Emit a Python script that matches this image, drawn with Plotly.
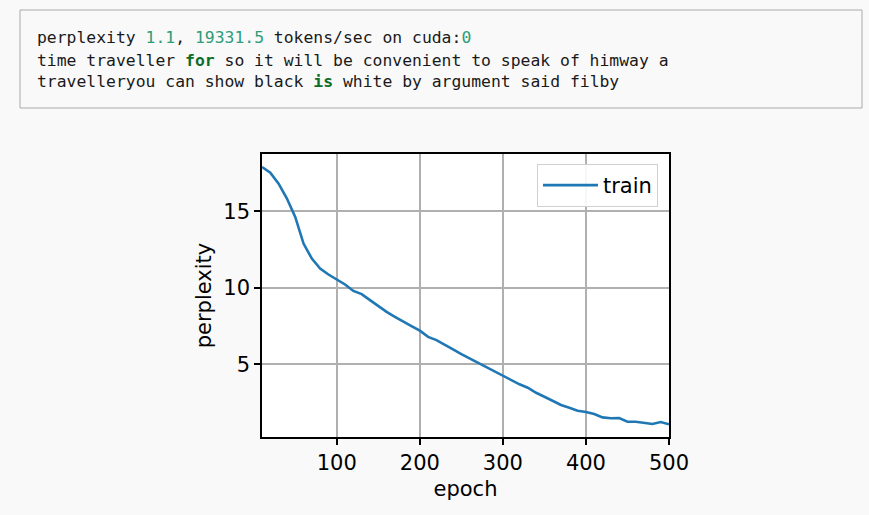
import plotly.graph_objects as go

# ---- data ----
epochs = list(range(10, 501, 10))
perplexity = [17.89, 17.52, 16.80, 15.83, 14.63, 12.89, 11.91, 11.26, 10.87, 10.54,
              10.22, 9.80, 9.59, 9.20, 8.80, 8.43, 8.11, 7.78, 7.50, 7.20,
              6.80, 6.59, 6.26, 5.98, 5.67, 5.39, 5.11, 4.85, 4.59, 4.30,
              3.98, 3.70, 3.48, 3.15, 2.89, 2.61, 2.35, 2.17, 1.98, 1.89,
              1.76, 1.54, 1.48, 1.50, 1.26, 1.26, 1.20, 1.11, 1.24, 1.09]
x_ticks = [100, 200, 300, 400, 500]
y_ticks = [5, 10, 15]
series_name = "train"
x_title = "epoch"
y_title = "perplexity"

W, H = 869, 515
L, R, T, B = 262, 200, 154, 78
PW, PH = W - L - R, H - T - B
BG = "#f9f9f9"
FS = 21

def px_x(p):
    return (p - L) / PW

def px_y(p):
    return (H - B - p) / PH

fig = go.Figure()
fig.add_trace(go.Scatter(x=epochs, y=perplexity, mode="lines", name=series_name,
                         line=dict(color="#1f77b4", width=2.6)))

axis_common = dict(showline=True, mirror=True, linecolor="black", linewidth=1.5,
                   showgrid=True, gridcolor="#b0b0b0", gridwidth=1.5,
                   ticks="outside", ticklen=6, tickwidth=1.5, tickcolor="black",
                   zeroline=False, tickfont=dict(family="DejaVu Sans", size=FS, color="black"))

fig.update_xaxes(range=[10, 500], tickvals=x_ticks, ticktext=[str(v) for v in x_ticks],
                 title=dict(text=x_title, font=dict(family="DejaVu Sans", size=FS, color="black"), standoff=7),
                 **axis_common)
fig.update_yaxes(range=[0.26, 18.74], tickvals=y_ticks, ticktext=[str(v) for v in y_ticks],
                 title=dict(text=y_title, font=dict(family="DejaVu Sans", size=FS, color="black"), standoff=6),
                 **axis_common)

# ---- text output box ----
mono = "DejaVu Sans Mono"
green_num = "#2e9c78"
kw = "#0b6e2a"
lines = [
    f'perplexity <span style="color:{green_num}">1.1</span>, <span style="color:{green_num}">19331.5</span> tokens/sec on cuda:<span style="color:{green_num}">0</span>',
    f'time traveller <b><span style="color:{kw}">for</span></b> so it will be convenient to speak of himway a',
    f'travelleryou can show black <b><span style="color:{kw}">is</span></b> white by argument said filby',
]
line_y = [38, 60, 82]

fig.add_shape(type="rect", xref="paper", yref="paper",
              x0=px_x(20), x1=px_x(862), y0=px_y(108), y1=px_y(10),
              line=dict(color="#aaaaaa", width=1), fillcolor=BG, layer="below")

annotations = []
for txt, yy in zip(lines, line_y):
    annotations.append(dict(text=txt, xref="paper", yref="paper", x=px_x(35), y=px_y(yy),
                            xanchor="left", yanchor="middle", showarrow=False,
                            font=dict(family=mono, size=16.4, color="#1a1a1a")))

fig.update_layout(
    width=W, height=H,
    margin=dict(l=L, r=R, t=T, b=B),
    paper_bgcolor=BG, plot_bgcolor="white",
    annotations=annotations,
    showlegend=True,
    legend=dict(x=px_x(658), y=px_y(164), xanchor="right", yanchor="top",
                itemwidth=55,
                bgcolor="rgba(255,255,255,0.9)", bordercolor="#d0d0d0", borderwidth=1,
                font=dict(family="DejaVu Sans", size=FS, color="black")),
)

fig.write_html("out.html", config={"displayModeBar": False},
               post_script="document.body.style.margin='0';document.body.style.background='%s';" % BG)
